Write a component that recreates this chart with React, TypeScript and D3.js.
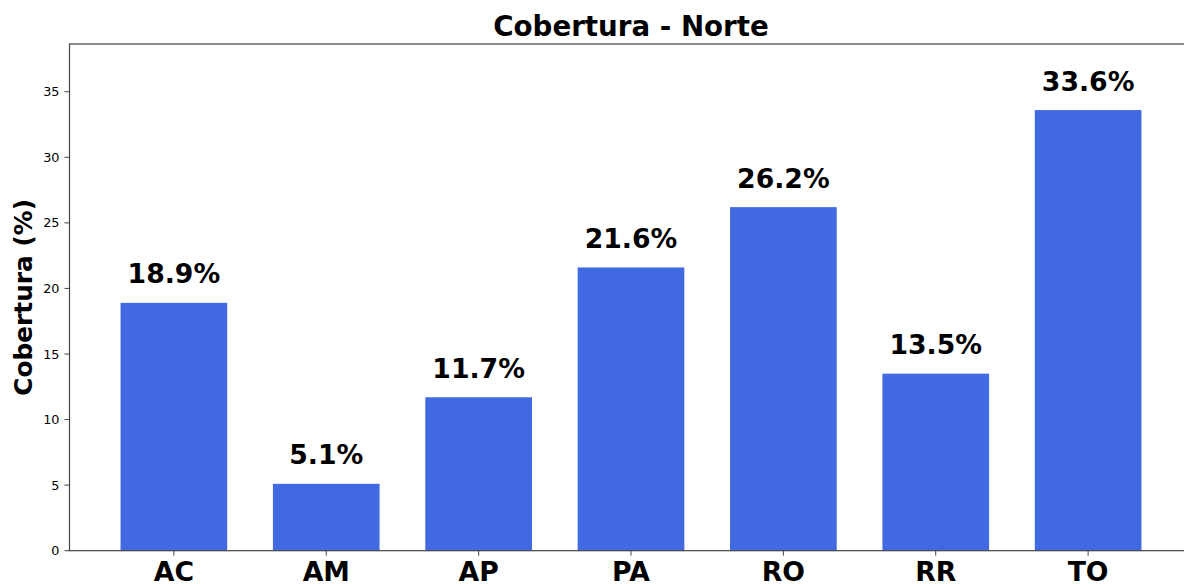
import * as d3 from "d3";
import { useEffect } from "react";

const states = ["AC", "AM", "AP", "PA", "RO", "RR", "TO"];
const coverage = [18.9, 5.1, 11.7, 21.6, 26.2, 13.5, 33.6];
const yTicks = [0, 5, 10, 15, 20, 25, 30, 35];

const W = 1184;
const H = 584;
const FONT = "DejaVu Sans, sans-serif";
const BAR = "#4169E1";
const SPINE = "#444";

export default function App() {
  useEffect(() => {
    document.body.style.margin = "0";
  }, []);

  // matplotlib-like bar layout: positions 0..n-1, width 0.7, 5% margins
  const n = states.length;
  const lo = -0.35 - 0.05 * (n - 1 + 0.7);
  const hi = n - 1 + 0.35 + 0.05 * (n - 1 + 0.7);
  const x = d3.scaleLinear().domain([lo, hi]).range([69.5, 1192.5]);
  const yMax = d3.max(coverage)! * 1.15;
  const y = d3.scaleLinear().domain([0, yMax]).range([550.7, 44]);
  const bw = x(0.35) - x(-0.35);

  return (
    <svg width={W} height={H} style={{ display: "block", background: "#fff" }} fontFamily={FONT}>
      <text x={(x(lo) + x(hi)) / 2} y={36} textAnchor="middle" fontSize={27.7} fontWeight="bold">
        Cobertura - Norte
      </text>

      {coverage.map((v, i) => (
        <g key={states[i]}>
          <rect x={x(i) - bw / 2} y={y(v)} width={bw} height={y(0) - y(v)} fill={BAR} />
          <text x={x(i)} y={y(v + 1) - 6.3} textAnchor="middle" fontSize={26.7} fontWeight="bold">
            {v.toFixed(1)}%
          </text>
          <line x1={x(i)} x2={x(i)} y1={y(0)} y2={y(0) + 5} stroke={SPINE} strokeWidth={1} />
          <text x={x(i)} y={581} textAnchor="middle" fontSize={26.7} fontWeight="bold">
            {states[i]}
          </text>
        </g>
      ))}

      {yTicks.map((t) => (
        <g key={t}>
          <line x1={x(lo) - 5} x2={x(lo)} y1={y(t)} y2={y(t)} stroke={SPINE} strokeWidth={1} />
          <text x={x(lo) - 10} y={y(t)} dy="0.36em" textAnchor="end" fontSize={12.8}>
            {t}
          </text>
        </g>
      ))}

      <text
        transform={`translate(32,${(y(0) + y(yMax)) / 2}) rotate(-90)`}
        textAnchor="middle"
        fontSize={24.8}
        fontWeight="bold"
      >
        Cobertura (%)
      </text>

      <rect
        x={x(lo)}
        y={y(yMax)}
        width={x(hi) - x(lo)}
        height={y(0) - y(yMax)}
        fill="none"
        stroke={SPINE}
        strokeWidth={1.2}
      />
    </svg>
  );
}
